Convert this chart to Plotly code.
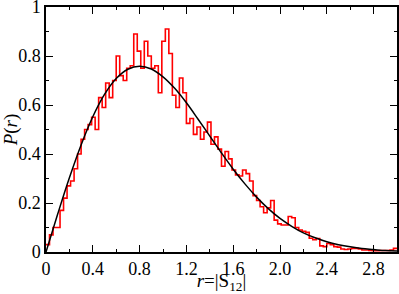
import plotly.graph_objects as go

# ---- data ----
bin_width = 0.03
hist_values = [
    0.03, 0.07, 0.10, 0.10, 0.17, 0.22, 0.27, 0.29, 0.34, 0.40,
    0.46, 0.50, 0.52, 0.55, 0.50, 0.63, 0.59, 0.69, 0.63, 0.70,
    0.80, 0.72, 0.70, 0.75, 0.76, 0.89, 0.82, 0.75, 0.86, 0.80,
    0.75, 0.76, 0.65, 0.86, 0.91, 0.81, 0.64, 0.59, 0.71, 0.65,
    0.525, 0.545, 0.48, 0.51, 0.46, 0.49, 0.53, 0.44, 0.47, 0.42,
    0.35, 0.41, 0.38, 0.335, 0.315, 0.31, 0.335, 0.32, 0.29, 0.23,
    0.21, 0.185, 0.16, 0.18, 0.21, 0.13, 0.115, 0.11, 0.11, 0.145,
    0.14, 0.10, 0.09, 0.085, 0.08, 0.056, 0.05, 0.055, 0.025, 0.022,
    0.035, 0.03, 0.022, 0.02, 0.012, 0.01, 0.012, 0.015, 0.015, 0.012,
    0.008, 0.008, 0.006, 0.005, 0.005, 0.006, 0.006, 0.006, 0.008, 0.015,
]

curve_r = [0.0, 0.1, 0.2, 0.3, 0.4, 0.5, 0.6, 0.7, 0.8, 0.9, 1.0,
           1.1, 1.2, 1.3, 1.4, 1.5, 1.6, 1.7, 1.8, 1.9, 2.0,
           2.1, 2.2, 2.3, 2.4, 2.5, 2.6, 2.7, 2.8, 2.9, 3.0]
curve_p = [0.0, 0.155, 0.303, 0.437, 0.552, 0.643, 0.708, 0.746, 0.758, 0.747, 0.715,
           0.668, 0.609, 0.542, 0.473, 0.404, 0.338, 0.278, 0.224, 0.177, 0.137,
           0.105, 0.078, 0.058, 0.042, 0.030, 0.021, 0.014, 0.010, 0.006, 0.004]

x_tick_vals = [0, 0.4, 0.8, 1.2, 1.6, 2.0, 2.4, 2.8]
x_tick_text = ["0", "0.4", "0.8", "1.2", "1.6", "2.0", "2.4", "2.8"]
y_tick_vals = [0, 0.2, 0.4, 0.6, 0.8, 1.0]
y_tick_text = ["0", "0.2", "0.4", "0.6", "0.8", "1"]

# ---- build figure ----
edges = [round(i * bin_width, 4) for i in range(len(hist_values) + 1)]
hist_y = hist_values + [hist_values[-1]]

fig = go.Figure()
fig.add_trace(go.Scatter(
    x=edges, y=hist_y, mode="lines",
    line=dict(shape="hv", color="#ff0000", width=1.6),
    showlegend=False, hoverinfo="skip"))
fig.add_trace(go.Scatter(
    x=curve_r, y=curve_p, mode="lines",
    line=dict(shape="spline", color="black", width=1.5),
    showlegend=False, hoverinfo="skip"))

font_family = "Liberation Serif"
axis_common = dict(
    showgrid=False, zeroline=False, showline=True, mirror="allticks",
    linecolor="black", linewidth=1.5, automargin=False,
    ticks="inside", ticklen=7, tickwidth=1, tickcolor="black",
    ticklabeloverflow="allow",
    tickfont=dict(family=font_family, size=18, color="black"),
)

fig.update_layout(
    width=399, height=294,
    margin=dict(l=46, r=2, t=7, b=42, autoexpand=False),
    paper_bgcolor="white", plot_bgcolor="white",
    font=dict(family=font_family, color="black"),
    xaxis=dict(range=[0, 3], tickvals=x_tick_vals, ticktext=x_tick_text,
               minor=dict(dtick=0.2, tick0=0, ticks="inside", ticklen=3.5, tickcolor="black", tickwidth=1),
               title=dict(text="<i>r</i>=|S<sub>12</sub>|", font=dict(family=font_family, size=19, color="black"), standoff=4),
               **axis_common),
    yaxis=dict(range=[0, 1], tickvals=y_tick_vals, ticktext=y_tick_text,
               minor=dict(dtick=0.1, tick0=0, ticks="inside", ticklen=3.5, tickcolor="black", tickwidth=1),
               title=dict(text="<i>P</i>(<i>r</i>)", font=dict(family=font_family, size=19, color="black"), standoff=2),
               **axis_common),
)

fig.write_html("out.html", config={"displayModeBar": False},
               post_script="document.body.style.margin='0';document.body.style.padding='0';")
